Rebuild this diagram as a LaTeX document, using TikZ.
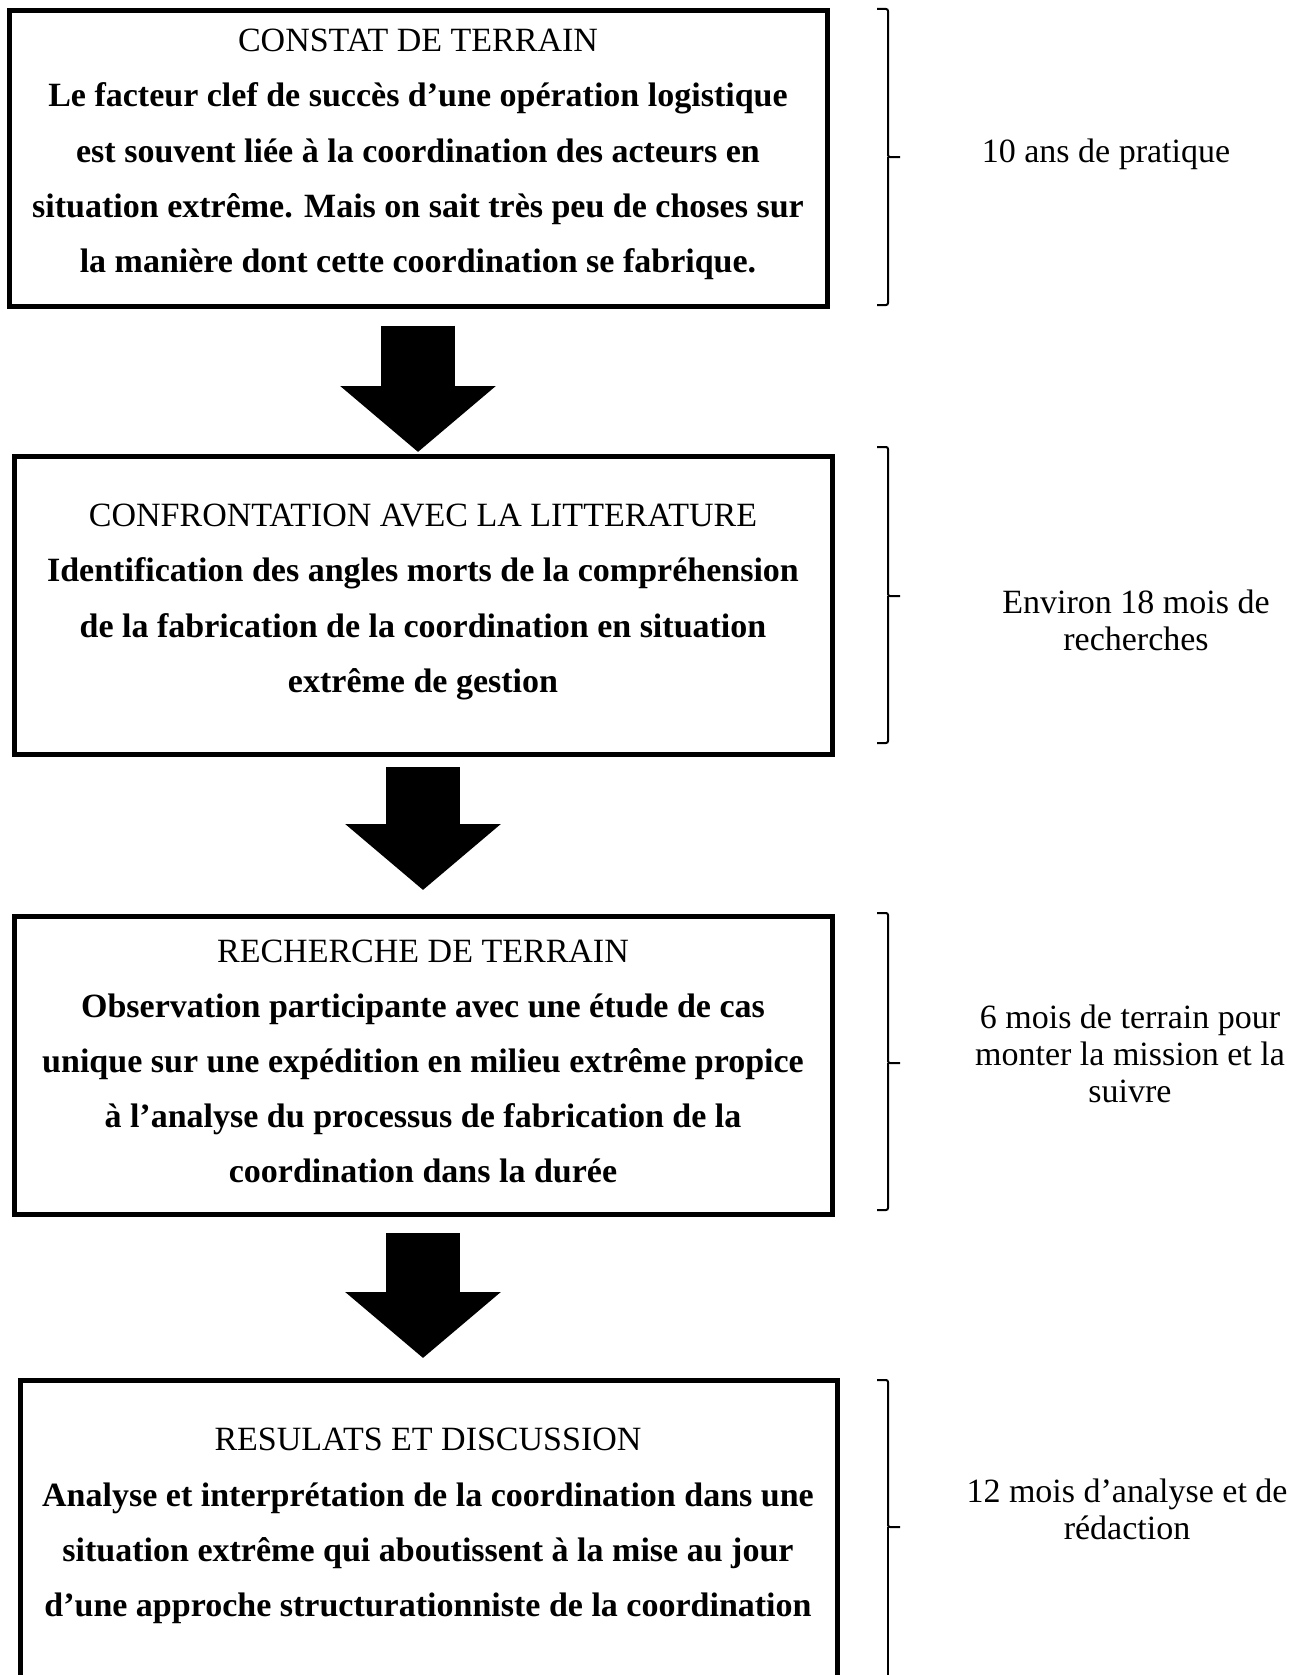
\documentclass[tikz,border=0pt]{standalone}
\usepackage{fontspec}
\setmainfont{Liberation Serif}
\usetikzlibrary{arrows.meta}

\tikzset{
  stepbox/.style={draw, line width=2.5pt, minimum width=409pt, inner sep=0pt},
  boxtext/.style={align=center, font=\fontsize{17pt}{27.6pt}\selectfont},
  dureetext/.style={align=center, font=\fontsize{17pt}{18.5pt}\selectfont},
  bigarrow/.style={line width=37pt, -{Triangle[length=33pt, width=76pt]}},
  bracket/.style={line width=1pt, rounded corners=1pt}
}

\begin{document}
\begin{tikzpicture}[x=0.5pt, y=-0.5pt]
                        \useasboundingbox (0,0) rectangle (1302,1675);
                        \clip (0,0) rectangle (1302,1675);

                        \node[stepbox, minimum height=147.5pt] (constat) at (418,158.5) {};
                        \node[stepbox, minimum height=149pt] (litterature) at (423,605) {};
                        \node[stepbox, minimum height=149pt] (recherche) at (423,1065) {};
                        \node[stepbox, minimum width=408.5pt, minimum height=155pt] (resultats) at (428.5,1535) {};

                        \node[boxtext] (constat-t) at (418,154.5) {CONSTAT DE TERRAIN\\
                            \textbf{Le facteur clef de succès d’une opération logistique}\\
                            \textbf{est souvent liée à la coordination des acteurs en}\\
                            \textbf{situation extrême. Mais on sait très peu de choses sur}\\
                            \textbf{la manière dont cette coordination se fabrique.}};
                        \node[boxtext] (litterature-t) at (423,602) {CONFRONTATION AVEC LA LITTERATURE\\
                            \textbf{Identification des angles morts de la compréhension}\\
                            \textbf{de la fabrication de la coordination en situation}\\
                            \textbf{extrême de gestion}};
                        \node[boxtext] (recherche-t) at (423,1061.5) {RECHERCHE DE TERRAIN\\
                            \textbf{Observation participante avec une étude de cas}\\
                            \textbf{unique sur une expédition en milieu extrême propice}\\
                            \textbf{à l’analyse du processus de fabrication de la}\\
                            \textbf{coordination dans la durée}};
                        \node[boxtext] (resultats-t) at (428,1526) {RESULATS ET DISCUSSION\\
                            \textbf{Analyse et interprétation de la coordination dans une}\\
                            \textbf{situation extrême qui aboutissent à la mise au jour}\\
                            \textbf{d’une approche structurationniste de la coordination}};

                        \draw[bigarrow, shorten <=8.5pt, shorten >=0.75pt] (constat.south) -- (constat.south |- litterature.north);
                        \draw[bigarrow, shorten <=5.25pt, shorten >=11.75pt] (litterature.south) -- (litterature.south |- recherche.north);
                        \draw[bigarrow, shorten <=8.25pt, shorten >=9.75pt] (recherche.south) -- (recherche.south |- resultats.north);

                        \draw[bracket] (877,9) -- (888,9) -- (888,157) -- (900,157);
                        \draw[bracket] (888,157) -- (888,305) -- (877,305);
                        \draw[bracket] (877,447) -- (888,447) -- (888,596) -- (900,596);
                        \draw[bracket] (888,596) -- (888,743) -- (877,743);
                        \draw[bracket] (877,913) -- (888,913) -- (888,1063) -- (900,1063);
                        \draw[bracket] (888,1063) -- (888,1210) -- (877,1210);
                        \draw[bracket] (877,1380) -- (888,1380) -- (888,1527) -- (900,1527);
                        \draw[bracket] (888,1527) -- (888,1690);

                        \node[dureetext] (duree1) at (1106,154) {10 ans de pratique};
                        \node[dureetext] (duree2) at (1136,620) {Environ 18 mois de\\recherches};
                        \node[dureetext] (duree3) at (1130,1054) {6 mois de terrain pour\\monter la mission et la\\suivre};
                        \node[dureetext] (duree4) at (1127,1509) {12 mois d’analyse et de\\rédaction};
                    \end{tikzpicture}
\end{document}
